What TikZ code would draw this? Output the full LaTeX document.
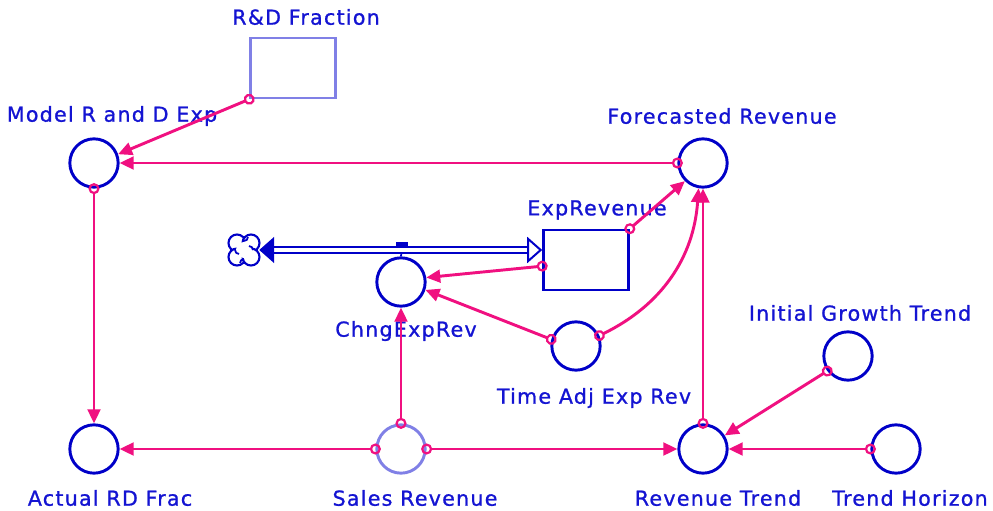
\documentclass[tikz,border=0pt]{standalone}
\usepackage{fontspec}
\newfontfamily\vsfont[LetterSpace=6, FakeBold=1]{DejaVu Sans}
\usetikzlibrary{arrows.meta, positioning, calc}
\definecolor{VarBlue}{RGB}{0,0,200}
\definecolor{TextBlue}{RGB}{20,20,210}
\definecolor{GhostBlue}{RGB}{128,128,230}
\definecolor{LinkPink}{RGB}{240,16,128}
\tikzset{
  aux/.style={circle, draw=#1, line width=2.5pt, fill=white,
              minimum size=1.45cm, inner sep=0pt},
  aux/.default=VarBlue,
  level/.style={rectangle, draw=#1, line width=2.2pt, fill=white,
                minimum width=2.55cm, minimum height=1.8cm, inner sep=0pt},
  level/.default=VarBlue,
  lbl/.style={font=\vsfont\fontsize{17.6}{19}\selectfont, text=TextBlue, inner sep=0pt},
  link/.style={draw=LinkPink, line width=2.5pt,
               {Circle[open, length=0.33cm, width=0.33cm, line width=1.9pt]}-{Triangle[length=0.42cm, width=0.38cm]},
               shorten <=-0.165cm},
  pipe/.style={draw=VarBlue, line width=1.7pt, double=white, double distance=0.12cm},
}

\begin{document}
\begin{tikzpicture}[x=0.03cm, y=-0.03cm]
  \useasboundingbox (0,0) rectangle (993,510);

  % stocks and variables
  \node[level=GhostBlue] (rdfrac) at (293,68) {};
  \node[level] (exprev) at (586,260) {};
  \node[aux] (model) at (94,163) {};
  \node[aux] (fcast) at (703,163) {};
  \node[aux] (chng) at (401,282) {};
  \node[aux] (tadj) at (576,346) {};
  \node[aux] (igt) at (848,356) {};
  \node[aux] (actual) at (94,449) {};
  \node[aux=GhostBlue] (sales) at (401,449) {};
  \node[aux] (revtrend) at (703,449) {};
  \node[aux] (horizon) at (896,449) {};

  % labels
  \node[lbl] (t-rdfrac) at (306,17) {R\&D Fraction};
  \node[lbl] (t-model) at (112,116) {Model R and D Exp};
  \node[lbl] (t-fcast) at (722,116) {Forecasted Revenue};
  \node[lbl] (t-exprev) at (597,210) {ExpRevenue};
  \node[lbl] (t-igt) at (860,313) {Initial Growth Trend};
  \node[lbl] (t-chng) at (406,331) {ChngExpRev};
  \node[lbl] (t-tadj) at (594,398) {Time Adj Exp Rev};
  \node[lbl] (t-actual) at (110,498) {Actual RD Frac};
  \node[lbl] (t-sales) at (415,498) {Sales Revenue};
  \node[lbl] (t-revtrend) at (718,498) {Revenue Trend};
  \node[lbl] (t-horizon) at (910,498) {Trend Horizon};

  % cloud
  \node[circle, minimum size=0.9cm, inner sep=0pt] (src) at (244,250) {};
  \foreach \dx/\dy in {-7/-7, 7/-7, -7/7, 7/7}
    \draw[VarBlue, line width=1.8pt, fill=white] ($(src)+(\dx,\dy)$) circle[radius=8.5];
  \fill[white] (src) circle[radius=8];
  \draw[VarBlue, line width=1.5pt] ($(src)+(0,-9)$) arc[start angle=90, end angle=0, radius=4]
    ($(src)+(9,0)$) arc[start angle=0, end angle=-90, radius=4]
    ($(src)+(0,9)$) arc[start angle=-90, end angle=-180, radius=4]
    ($(src)+(-9,0)$) arc[start angle=180, end angle=90, radius=4];

  % flow
  \coordinate (pipeend) at (exprev.west |- src);
  \node[rectangle, fill=VarBlue, minimum width=0.38cm, minimum height=0.12cm, inner sep=0pt] (valve) at (402,244) {};
  \draw[VarBlue, line width=1.5pt] (valve.south) -- (chng.north);
  \draw[pipe, {Triangle[length=0.45cm, width=0.78cm]}-{Triangle[open, length=0.45cm, width=0.78cm]}]
    (src.east) -- (pipeend);

  % links
  \draw[link] (rdfrac.south west) -- (model.20);
  \draw[link] (fcast.180) -- (model.0);
  \draw[link] (model.-90) -- (actual.90);
  \draw[link] (exprev.north east) -- (fcast.225);
  \draw[link] (exprev.188) -- (chng.10);
  \draw[link] (tadj.165) -- (chng.-18);
  \draw[link] (tadj.24) to[bend right=30] (fcast.-100);
  \draw[link] (sales.90) -- (chng.-90);
  \draw[link] (sales.180) -- (actual.0);
  \draw[link] (sales.0) -- (revtrend.180);
  \draw[link] (revtrend.90) -- (fcast.-90);
  \draw[link] (igt.216) -- (revtrend.32);
  \draw[link] (horizon.180) -- (revtrend.0);
\end{tikzpicture}
\end{document}
